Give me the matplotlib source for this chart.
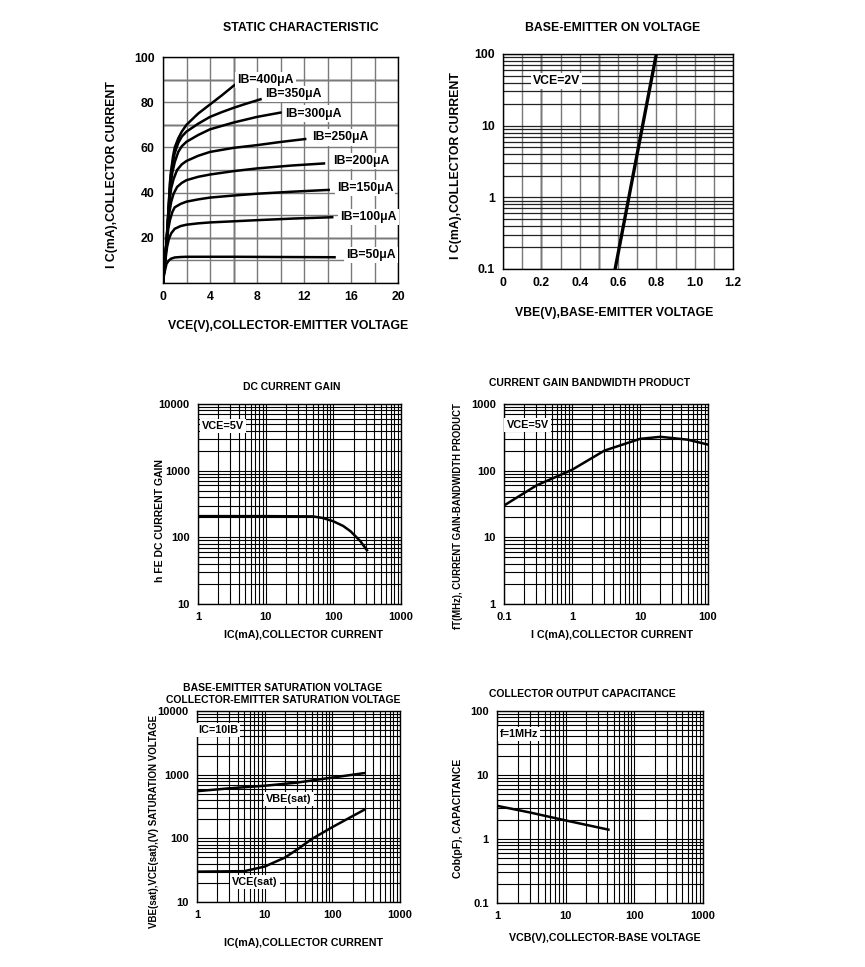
import numpy as np
import matplotlib
matplotlib.use('Agg')
import matplotlib.pyplot as plt
from matplotlib.ticker import LogLocator, MultipleLocator, NullFormatter

W, H = 865, 967

# Static characteristic: VCE (V) vs IC (mA) for each base current
vce_50 = [0, 0.1, 0.3, 0.5, 0.7, 1.0, 1.5, 2, 6, 10, 14.6]
ic_50 = [0, 4, 8.5, 10, 10.8, 11.3, 11.5, 11.6, 11.6, 11.5, 11.4]
vce_100 = [0, 0.15, 0.35, 0.5, 0.7, 1.0, 1.5, 2, 3, 4, 6, 8, 11, 14.4]
ic_100 = [0, 8, 16, 19.5, 22, 24, 25.2, 25.8, 26.4, 26.8, 27.3, 27.8, 28.5, 29.1]
vce_150 = [0, 0.2, 0.45, 0.6, 0.8, 1.0, 1.5, 2, 3, 4, 6, 8, 11, 14.1]
ic_150 = [0, 12, 24, 28, 31.5, 33.5, 35, 36, 37, 37.8, 38.7, 39.5, 40.4, 41.2]
vce_200 = [0, 0.25, 0.5, 0.7, 0.9, 1.2, 1.6, 2, 3, 4, 6, 8, 11, 13.7]
ic_200 = [0, 15, 30, 36, 39.5, 42.5, 44.3, 45.5, 47, 48, 49.5, 50.7, 52, 52.9]
vce_250 = [0, 0.3, 0.55, 0.7, 0.9, 1.2, 1.6, 2, 3, 4, 6, 8, 10, 12.1]
ic_250 = [0, 18, 36, 42, 46, 50, 52.5, 54, 56.3, 58, 59.8, 61, 62.4, 63.7]
vce_300 = [0, 0.3, 0.6, 0.8, 1.0, 1.3, 1.6, 2, 3, 4, 6, 8, 10]
ic_300 = [0, 18, 42, 49, 53.5, 58, 60.5, 62.5, 65.5, 68, 71, 73.5, 75.4]
vce_350 = [0, 0.3, 0.6, 0.8, 1.0, 1.3, 1.6, 2, 3, 4, 5, 6, 7, 8.3]
ic_350 = [0, 18, 45, 52.5, 57.5, 62, 64.8, 67, 70.5, 73.5, 75.6, 77.5, 79.2, 81.3]
vce_400 = [0, 0.3, 0.65, 0.85, 1.0, 1.3, 1.6, 2, 3, 4, 5, 6.06]
ic_400 = [0, 18, 48, 56, 60, 64, 67, 70, 75, 79, 83, 87.5]
ib_labels = ['IB=50μA', 'IB=100μA', 'IB=150μA', 'IB=200μA',
             'IB=250μA', 'IB=300μA', 'IB=350μA', 'IB=400μA']
ib_label_x = [15.6, 15.1, 14.8, 14.5, 12.7, 10.4, 8.7, 6.3]
ib_label_y = [12.5, 29.1, 42.2, 54, 64.4, 75, 83.5, 90]

# Base-emitter on voltage
vbe_on = [0.585, 0.80]
ic_on = [0.1, 100]

# DC current gain
ic_hfe = [1, 10, 50, 70, 100, 140, 180, 250, 314]
hfe = [208, 208, 206, 195, 174, 148, 123, 88, 64]

# Current gain bandwidth product
ic_ft = [0.1, 0.3, 1, 3, 10, 20, 50, 100]
ft = [30, 60, 103, 200, 300, 322, 292, 246]

# Saturation voltages (mV)
ic_vbe = [1, 3, 10, 30, 100, 300]
vbe_sat = [550, 610, 670, 750, 900, 1060]
ic_vce = [1, 5, 10, 20, 31, 50, 100, 300]
vce_sat = [30, 30.5, 36, 50, 68, 98, 150, 283]

# Collector output capacitance
vcb = [1, 3, 10, 42]
cob = [3.3, 2.6, 1.95, 1.4]

plt.rcParams['font.family'] = ['Liberation Sans', 'DejaVu Sans']
plt.rcParams['font.weight'] = 'bold'
plt.rcParams['axes.labelweight'] = 'bold'

fig = plt.figure(figsize=(W / 100, H / 100), dpi=100)


def add_axes(left, top, right, bottom):
    return fig.add_axes([left / W, 1 - bottom / H, (right - left) / W, (bottom - top) / H])


def ftext(x, y, s, rot=0, size=8):
    fig.text(x / W, 1 - y / H, s, ha='center', va='center', rotation=rot,
             fontsize=size, fontweight='bold')


def style(ax, size=8):
    ax.tick_params(which='both', length=0, labelsize=size, pad=6)
    for sp in ax.spines.values():
        sp.set_linewidth(1.0)
        sp.set_color('black')
    ax.set_axisbelow(True)


def log_grid(ax, axis):
    a = ax.xaxis if axis == 'x' else ax.yaxis
    a.set_minor_locator(LogLocator(base=10, subs=np.arange(2, 10)))
    a.set_minor_formatter(NullFormatter())


box = dict(facecolor='white', edgecolor='none', pad=1.5)

# 1. Static characteristic
ax1 = add_axes(163, 57, 398, 283)
curves = [(vce_50, ic_50), (vce_100, ic_100), (vce_150, ic_150), (vce_200, ic_200),
          (vce_250, ic_250), (vce_300, ic_300), (vce_350, ic_350), (vce_400, ic_400)]
for vx, iy in curves:
    ax1.plot(vx, iy, color='black', lw=1.8, solid_joinstyle='round')
for lbl, lx, ly in zip(ib_labels, ib_label_x, ib_label_y):
    ax1.text(lx, ly, lbl, fontsize=8.8, ha='left', va='center', bbox=box)
ax1.set_xlim(0, 20)
ax1.set_ylim(0, 100)
ax1.set_xticks([0, 4, 8, 12, 16, 20])
ax1.set_yticks([20, 40, 60, 80, 100])
ax1.xaxis.set_minor_locator(MultipleLocator(2))
ax1.yaxis.set_minor_locator(MultipleLocator(10))
ax1.grid(which='both', color='#7a7a7a', lw=1.0)
for yv in [20, 70, 90]:
    ax1.axhline(yv, color='black', lw=1.0, zorder=0.5)
ax1.axvline(6, color='black', lw=1.0, zorder=0.5)
style(ax1, 8.8)
ftext(301, 28, 'STATIC CHARACTERISTIC', size=8.8)
ftext(288, 326, 'VCE(V),COLLECTOR-EMITTER VOLTAGE', size=8.8)
ftext(112, 175, 'I C(mA),COLLECTOR CURRENT', rot=90, size=8.8)

# 2. Base-emitter on voltage
ax2 = add_axes(503, 54, 733, 269)
ax2.plot(vbe_on, ic_on, color='black', lw=2.4)
ax2.set_yscale('log')
ax2.set_xlim(0, 1.2)
ax2.set_ylim(0.1, 100)
ax2.set_xticks([0, 0.2, 0.4, 0.6, 0.8, 1.0, 1.2],
               labels=['0', '0.2', '0.4', '0.6', '0.8', '1.0', '1.2'])
ax2.set_yticks([0.1, 1, 10, 100], labels=['0.1', '1', '10', '100'])
ax2.xaxis.set_minor_locator(MultipleLocator(0.1))
log_grid(ax2, 'y')
ax2.grid(which='both', axis='x', color='#7a7a7a', lw=1.0)
ax2.grid(which='both', axis='y', color='#222222', lw=0.9)
for xv in [0.2, 0.5]:
    ax2.axvline(xv, color='black', lw=1.0, zorder=0.5)
ax2.text(0.157, 41.5, 'VCE=2V', fontsize=8.8, ha='left', va='center', bbox=box)
style(ax2, 8.8)
ftext(613, 28, 'BASE-EMITTER ON VOLTAGE', size=8.8)
ftext(614, 313, 'VBE(V),BASE-EMITTER VOLTAGE', size=8.8)
ftext(456, 166, 'I C(mA),COLLECTOR CURRENT', rot=90, size=8.8)

# 3. DC current gain
ax3 = add_axes(198, 404, 401, 604)
ax3.plot(ic_hfe, hfe, color='black', lw=1.8)
ax3.set_xscale('log')
ax3.set_yscale('log')
ax3.set_xlim(1, 1000)
ax3.set_ylim(10, 10000)
ax3.set_xticks([1, 10, 100, 1000], labels=['1', '10', '100', '1000'])
ax3.set_yticks([10, 100, 1000, 10000], labels=['10', '100', '1000', '10000'])
log_grid(ax3, 'x')
log_grid(ax3, 'y')
ax3.grid(which='both', color='black', lw=0.8)
ax3.text(1.15, 4730, 'VCE=5V', fontsize=7.8, ha='left', va='center', bbox=box)
style(ax3, 8)
ftext(292, 387, 'DC CURRENT GAIN', size=7.5)
ftext(303, 635, 'IC(mA),COLLECTOR CURRENT', size=7.7)
ftext(160, 520, 'h FE DC CURRENT GAIN', rot=90, size=7.5)

# 4. Current gain bandwidth product
ax4 = add_axes(504, 404, 708, 604)
ax4.plot(ic_ft, ft, color='black', lw=1.8)
ax4.set_xscale('log')
ax4.set_yscale('log')
ax4.set_xlim(0.1, 100)
ax4.set_ylim(1, 1000)
ax4.set_xticks([0.1, 1, 10, 100], labels=['0.1', '1', '10', '100'])
ax4.set_yticks([1, 10, 100, 1000], labels=['1', '10', '100', '1000'])
log_grid(ax4, 'x')
log_grid(ax4, 'y')
ax4.grid(which='both', color='black', lw=0.8)
ax4.text(0.109, 479, 'VCE=5V', fontsize=7.8, ha='left', va='center', bbox=box)
style(ax4, 8)
ftext(590, 383, 'CURRENT GAIN BANDWIDTH PRODUCT', size=7.5)
ftext(612, 635, 'I C(mA),COLLECTOR CURRENT', size=7.7)
ftext(458, 516, 'fT(MHz), CURRENT GAIN-BANDWIDTH PRODUCT', rot=90, size=6.9)

# 5. Saturation voltages
ax5 = add_axes(197, 711, 400, 902)
ax5.plot(ic_vbe, vbe_sat, color='black', lw=1.8)
ax5.plot(ic_vce, vce_sat, color='black', lw=1.8)
ax5.set_xscale('log')
ax5.set_yscale('log')
ax5.set_xlim(1, 1000)
ax5.set_ylim(10, 10000)
ax5.set_xticks([1, 10, 100, 1000], labels=['1', '10', '100', '1000'])
ax5.set_yticks([10, 100, 1000, 10000], labels=['10', '100', '1000', '10000'])
log_grid(ax5, 'x')
log_grid(ax5, 'y')
ax5.grid(which='both', color='black', lw=0.8)
ax5.text(1.03, 5100, 'IC=10IB', fontsize=7.8, ha='left', va='center', bbox=box)
ax5.text(10.6, 410, 'VBE(sat)', fontsize=7.8, ha='left', va='center', bbox=box)
ax5.text(3.3, 20.4, 'VCE(sat)', fontsize=7.8, ha='left', va='center', bbox=box)
style(ax5, 8)
ftext(283, 694, 'BASE-EMITTER SATURATION VOLTAGE\nCOLLECTOR-EMITTER SATURATION VOLTAGE',
      size=7.5)
ftext(303, 943, 'IC(mA),COLLECTOR CURRENT', size=7.7)
ftext(154, 821, 'VBE(sat),VCE(sat),(V) SATURATION VOLTAGE', rot=90, size=7.0)

# 6. Collector output capacitance
ax6 = add_axes(497, 711, 703, 903)
ax6.plot(vcb, cob, color='black', lw=1.8)
ax6.set_xscale('log')
ax6.set_yscale('log')
ax6.set_xlim(1, 1000)
ax6.set_ylim(0.1, 100)
ax6.set_xticks([1, 10, 100, 1000], labels=['1', '10', '100', '1000'])
ax6.set_yticks([0.1, 1, 10, 100], labels=['0.1', '1', '10', '100'])
log_grid(ax6, 'x')
log_grid(ax6, 'y')
ax6.grid(which='both', color='black', lw=0.8)
ax6.text(1.1, 44, 'f=1MHz', fontsize=7.8, ha='left', va='center', bbox=box)
style(ax6, 8)
ftext(582, 694, 'COLLECTOR OUTPUT CAPACITANCE', size=7.5)
ftext(605, 938, 'VCB(V),COLLECTOR-BASE VOLTAGE', size=7.7)
ftext(458, 818, 'Cob(pF), CAPACITANCE', rot=90, size=7.5)

fig.savefig('out.png', dpi=100, facecolor='white')
